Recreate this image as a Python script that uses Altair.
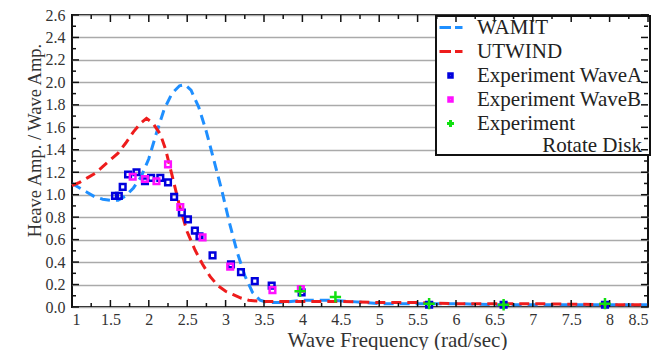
import altair as alt
import pandas as pd

# ---- data ----
wamit_x = [1.0, 1.1, 1.2, 1.3, 1.4, 1.5, 1.6, 1.7, 1.8, 1.9, 2.0, 2.1, 2.2, 2.3, 2.4, 2.47,
           2.55, 2.65, 2.75, 2.85, 2.95, 3.05, 3.15, 3.25, 3.35, 3.45, 3.55, 3.7, 3.85, 4.0,
           4.2, 4.4, 4.6, 4.8, 5.0, 5.5, 6.0, 6.5, 7.0, 7.5, 8.0, 8.5]
wamit_y = [1.10, 1.06, 1.02, 0.98, 0.96, 0.95, 0.95, 0.99, 1.06, 1.16, 1.32, 1.55, 1.76, 1.90, 1.97, 1.98,
           1.93, 1.78, 1.56, 1.30, 1.04, 0.75, 0.49, 0.28, 0.13, 0.06, 0.04, 0.04, 0.05, 0.06,
           0.06, 0.06, 0.05, 0.04, 0.03, 0.03, 0.03, 0.02, 0.02, 0.02, 0.02, 0.02]

utwind_x = [1.0, 1.1, 1.2, 1.3, 1.4, 1.5, 1.6, 1.7, 1.8, 1.9, 1.97, 2.05, 2.15, 2.22, 2.3, 2.4,
            2.5, 2.6, 2.7, 2.8, 2.9, 3.0, 3.1, 3.2, 3.3, 3.45, 3.6, 4.0, 4.5, 5.0, 5.5, 6.0,
            7.0, 8.0, 8.5]
utwind_y = [1.08, 1.11, 1.15, 1.19, 1.25, 1.31, 1.37, 1.46, 1.56, 1.64, 1.68, 1.64, 1.54, 1.40, 1.18, 0.90,
            0.67, 0.51, 0.38, 0.27, 0.19, 0.14, 0.11, 0.08, 0.06, 0.05, 0.05, 0.05, 0.05, 0.04, 0.04, 0.03,
            0.03, 0.02, 0.02]

waveA_x = [1.56, 1.61, 1.66, 1.73, 1.84, 1.95, 2.03, 2.15, 2.25, 2.33, 2.43, 2.51, 2.60, 2.66,
           2.83, 3.07, 3.20, 3.38, 3.60, 3.99, 5.65, 6.62, 7.94]
waveA_y = [0.99, 0.99, 1.07, 1.18, 1.20, 1.12, 1.15, 1.15, 1.11, 0.98, 0.84, 0.78, 0.68, 0.63,
           0.46, 0.38, 0.31, 0.23, 0.19, 0.13, 0.02, 0.02, 0.02]

waveB_x = [1.79, 1.95, 2.10, 2.25, 2.41, 2.70, 3.06, 3.61, 3.98]
waveB_y = [1.16, 1.14, 1.12, 1.27, 0.89, 0.62, 0.36, 0.15, 0.16]

disk_x = [3.97, 4.43, 5.65, 6.62, 7.94]
disk_y = [0.14, 0.09, 0.03, 0.02, 0.03]

series_names = ["WAMIT", "UTWIND", "Experiment WaveA", "Experiment WaveB", "Experiment Rotate Disk"]
series_colors = ["#1f8fff", "#ee1c1c", "#0000dd", "#ff10ff", "#10e010"]
legend_note = ["Rotate Disk"]

x_major = [1, 1.5, 2, 2.5, 3, 3.5, 4, 4.5, 5, 5.5, 6, 6.5, 7, 7.5, 8, 8.5]
x_minor = [1.25, 1.75, 2.25, 2.75, 3.25, 3.75, 4.25, 4.75, 5.25, 5.75, 6.25, 6.75, 7.25, 7.75, 8.25]
y_major = [0, 0.2, 0.4, 0.6, 0.8, 1.0, 1.2, 1.4, 1.6, 1.8, 2.0, 2.2, 2.4, 2.6]
y_minor = [0.1, 0.3, 0.5, 0.7, 0.9, 1.1, 1.3, 1.5, 1.7, 1.9, 2.1, 2.3, 2.5]

W, H = 576, 292
FONT = "Liberation Serif"
LEG_X0, LEG_X1, LEG_Y0, LEG_Y1 = 364, 578, 1, 140

lines_df = pd.concat([
    pd.DataFrame({"x": wamit_x, "y": wamit_y, "series": "WAMIT"}),
    pd.DataFrame({"x": utwind_x, "y": utwind_y, "series": "UTWIND"}),
])
pts_df = pd.concat([
    pd.DataFrame({"x": waveA_x, "y": waveA_y, "series": "Experiment WaveA"}),
    pd.DataFrame({"x": waveB_x, "y": waveB_y, "series": "Experiment WaveB"}),
    pd.DataFrame({"x": disk_x, "y": disk_y, "series": "Experiment Rotate Disk"}),
])

xscale = alt.Scale(domain=[1, 8.5], nice=False, zero=False)
yscale = alt.Scale(domain=[0, 2.6], nice=False, zero=False)

axis_style = dict(labelFont=FONT, labelColor="#333",
                  titleFont=FONT, titleFontWeight="normal", titleColor="#333")
xaxis = alt.Axis(values=x_major, format="~g", ticks=False, domain=False, grid=False,
                 labelFontSize=16, labelPadding=4, title="Wave Frequency (rad/sec)",
                 titleFontSize=21, titlePadding=2, titleX=325, **axis_style)
yaxis = alt.Axis(values=y_major, format=".1f", ticks=False, domain=False, grid=True,
                 gridColor="#aaaaaa", gridWidth=1.5, labelFontSize=16, labelPadding=7,
                 title="Heave Amp. / Wave Amp.", titleFontSize=18.5, titlePadding=1,
                 titleY=125, **axis_style)

dash = "M-2.2,0H0.1M0.9,0H2.4"
sq = "M-0.35,-0.35H0.35V0.35H-0.35Z"
plus = "M-0.7,0H0.7M0,-0.7V0.7"

legend = alt.Legend(
    title=None, orient="none", legendX=364, legendY=-2,
    labelFont=FONT, labelFontSize=21, labelColor="#222", labelLimit=400,
    labelExpr="datum.label == 'Experiment Rotate Disk' ? 'Experiment' : datum.label",
    symbolSize=100, symbolStrokeWidth=3, labelOffset=16,
    rowPadding=2, padding=4, strokeColor="transparent", fillColor="transparent",
)

color = alt.Color("series:N", scale=alt.Scale(domain=series_names, range=series_colors), legend=legend)
shape = alt.Shape("series:N", scale=alt.Scale(domain=series_names, range=[dash, dash, sq, sq, plus]), legend=legend)

# legend box (background + frame), drawn under the data
legend_box = alt.Chart(pd.DataFrame({"t": legend_note})).mark_rect(
    fill="white", stroke="#111", strokeWidth=2
).encode(x=alt.value(LEG_X0), x2=alt.value(LEG_X1), y=alt.value(LEG_Y0), y2=alt.value(LEG_Y1))

lines = alt.Chart(lines_df).mark_line(strokeDash=[10, 6], strokeWidth=3).encode(
    x=alt.X("x:Q", scale=xscale, axis=xaxis),
    y=alt.Y("y:Q", scale=yscale, axis=yaxis),
    color=color,
    detail="series:N",
)

points = alt.Chart(pts_df).mark_point(filled=False, strokeWidth=2.5, size=260, opacity=1).encode(
    x=alt.X("x:Q", scale=xscale, axis=xaxis),
    y=alt.Y("y:Q", scale=yscale, axis=yaxis),
    color=color,
    shape=shape,
)

note = alt.Chart(pd.DataFrame({"t": legend_note})).mark_text(
    font=FONT, fontSize=21, color="#222", align="right", baseline="middle"
).encode(text="t:N", x=alt.value(W - 6), y=alt.value(131))

def xticks(vals, y0, y1):
    return alt.Chart(pd.DataFrame({"x": vals})).mark_rule(color="#111", strokeWidth=1.5).encode(
        x=alt.X("x:Q", scale=xscale, axis=xaxis), y=alt.value(y0), y2=alt.value(y1))

def yticks(vals, x0, x1):
    return alt.Chart(pd.DataFrame({"y": vals})).mark_rule(color="#111", strokeWidth=1.5).encode(
        y=alt.Y("y:Q", scale=yscale, axis=yaxis), x=alt.value(x0), x2=alt.value(x1))

ticks = [
    xticks(x_major, H, H - 7), xticks(x_minor, H, H - 4),
    xticks(x_major, 0, 7), xticks(x_minor, 0, 4),
    yticks(y_major, 0, 7), yticks(y_minor, 0, 4),
    yticks(y_major, W, W - 7), yticks(y_minor, W, W - 4),
]

chart = alt.layer(legend_box, lines, *ticks, points, note).properties(
    width=W, height=H, background="white",
    autosize=alt.AutoSizeParams(type="none"),
    padding={"left": 64, "top": 7, "right": 6, "bottom": 43},
).configure_view(
    stroke="#111", strokeWidth=2
)

chart.save("out.html", embed_options={"renderer": "svg", "actions": False})
